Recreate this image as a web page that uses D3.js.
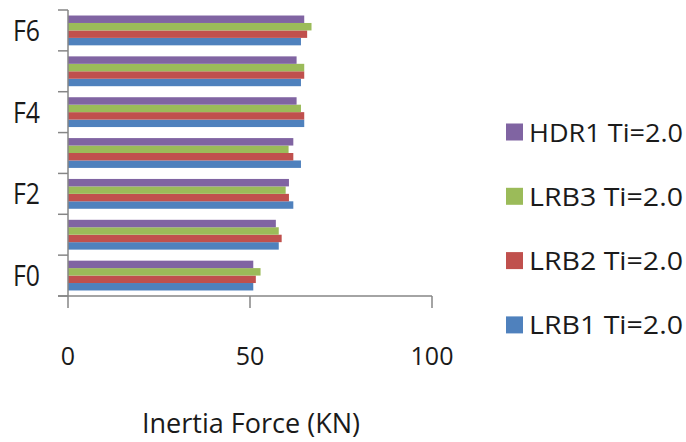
<!DOCTYPE html>
<html><head><meta charset="utf-8">
<script src="https://cdn.jsdelivr.net/npm/d3@7"></script>
<style>body{margin:0;background:#fff;} svg{display:block;} text{font-family:"Open Sans",sans-serif;fill:#1a1a1a;}</style>
</head><body><svg id="c" width="686" height="442"></svg>
<script>
const categories = ["F0","F1","F2","F3","F4","F5","F6"];
const tickLabels = ["F0","F2","F4","F6"];
const seriesNames = ["LRB1 Ti=2.0","LRB2 Ti=2.0","LRB3 Ti=2.0","HDR1 Ti=2.0"];
const colors = ["#4F81BD","#C0504D","#9BBB59","#8064A2"];
const LRB1 = [50.9, 57.9, 61.9, 64.0, 64.9, 64.0, 64.0];
const LRB2 = [51.6, 58.7, 60.7, 61.9, 64.9, 64.9, 65.7];
const LRB3 = [52.9, 57.9, 59.8, 60.6, 64.0, 64.9, 66.9];
const HDR1 = [50.9, 57.1, 60.7, 61.9, 62.8, 62.8, 64.9];
const xTicks = [0, 50, 100];
const xTitle = "Inertia Force (KN)";

(function(){
const series = [LRB1, LRB2, LRB3, HDR1];
const svg = d3.select("#c");
const mLeft = 68, mRight = 432, mTop = 10, mBottom = 296;

const x = d3.scaleLinear().domain([0,100]).range([mLeft, mRight]);
const y = d3.scaleBand().domain(categories).range([mBottom, mTop]).paddingInner(0.27).paddingOuter(0.135);
const yInner = d3.scaleBand().domain(d3.range(series.length).reverse()).range([0, y.bandwidth()]);

series.forEach((vals, si) => {
  svg.append("g").selectAll("rect").data(vals).join("rect")
    .attr("x", x(0))
    .attr("y", (d,i) => y(categories[i]) + yInner(si))
    .attr("width", d => x(d) - x(0))
    .attr("height", yInner.bandwidth())
    .attr("fill", colors[si]);
});

const axisColor = "#868686";
const step = y.step();
svg.append("line").attr("x1", mLeft).attr("x2", mLeft).attr("y1", mTop).attr("y2", mBottom)
  .attr("stroke", axisColor).attr("stroke-width", 1.5);
d3.range(categories.length + 1).forEach(k => {
  const yy = mBottom - k * step;
  svg.append("line").attr("x1", mLeft - 10).attr("x2", mLeft).attr("y1", yy).attr("y2", yy)
    .attr("stroke", axisColor).attr("stroke-width", 1.5);
});
svg.append("line").attr("x1", mLeft - 10).attr("x2", mRight).attr("y1", mBottom).attr("y2", mBottom)
  .attr("stroke", axisColor).attr("stroke-width", 1.5);
svg.append("g").selectAll("line").data(xTicks).join("line")
  .attr("x1", d => x(d)).attr("x2", d => x(d)).attr("y1", mBottom).attr("y2", mBottom + 12)
  .attr("stroke", axisColor).attr("stroke-width", 1.5);
svg.append("g").selectAll("text").data(xTicks).join("text")
  .attr("x", d => x(d)).attr("y", 365).attr("text-anchor", "middle")
  .attr("font-size", 25).text(d => d);

svg.append("g").selectAll("text").data(tickLabels).join("text")
  .attr("x", 40).attr("y", d => y(d) + y.bandwidth()/2 + 10.5)
  .attr("text-anchor", "end").attr("font-size", 29)
  .attr("textLength", 27).attr("lengthAdjust", "spacingAndGlyphs")
  .text(d => d);

svg.append("text").attr("x", 251).attr("y", 433).attr("text-anchor", "middle")
  .attr("font-size", 27).attr("textLength", 218).attr("lengthAdjust", "spacingAndGlyphs")
  .text(xTitle);

const legendOrder = d3.range(series.length).reverse();
const lg = svg.append("g");
legendOrder.forEach((si, k) => {
  const cy = 132 + k * 64.3;
  lg.append("rect").attr("x", 506).attr("y", cy - 8.5).attr("width", 17).attr("height", 17).attr("fill", colors[si]);
  lg.append("text").attr("x", 529).attr("y", cy + 9.5).attr("font-size", 26)
    .attr("textLength", 154).attr("lengthAdjust", "spacingAndGlyphs").text(seriesNames[si]);
});
})();
</script></body></html>
